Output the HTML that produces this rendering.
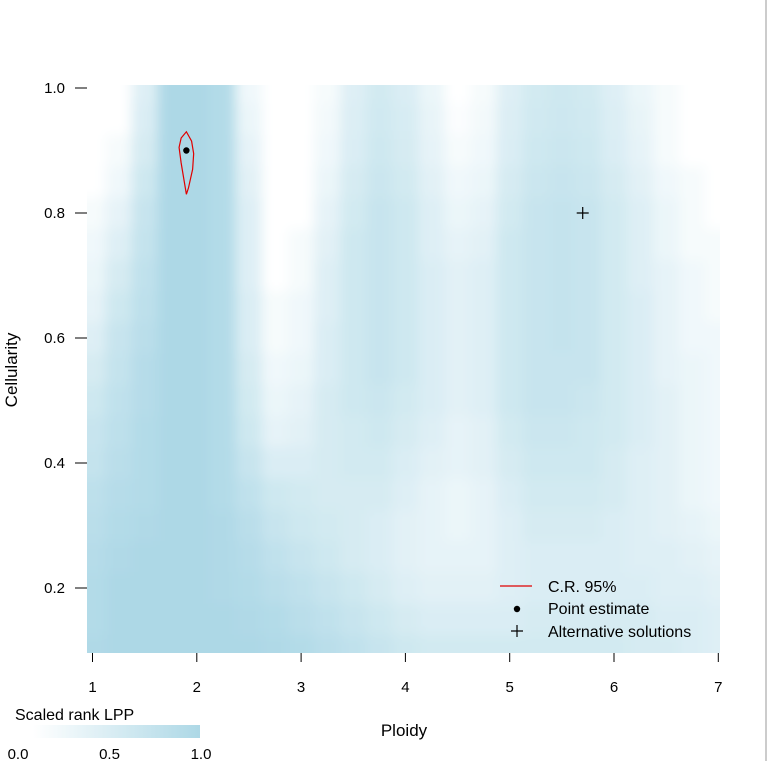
<!DOCTYPE html>
<html><head><meta charset="utf-8"><style>
html,body{margin:0;padding:0;background:#fff;}
svg{display:block;font-family:"Liberation Sans",Arial,sans-serif;}
</style></head><body>
<svg id="c" width="769" height="761" viewBox="0 0 769 761">
<defs>
<clipPath id="pc"><rect x="87" y="85" width="633" height="568"/></clipPath>
<filter id="bl" filterUnits="userSpaceOnUse" x="0" y="0" width="769" height="761"><feGaussianBlur stdDeviation="6"/></filter>
<linearGradient id="cg" x1="0" x2="1" y1="0" y2="0"><stop offset="0" stop-color="#fff"/><stop offset="1" stop-color="rgb(173,216,230)"/></linearGradient>
</defs>
<g clip-path="url(#pc)"><g id="heat" filter="url(#bl)"></g></g>
<g id="axes"></g>
<line x1="766" y1="0" x2="766" y2="761" stroke="#bbb" stroke-width="1.5"/>
</svg>
<script>
const ploidyVals=[1,1.25,1.5,1.75,2,2.25,2.5,2.75,3,3.25,3.5,3.75,4,4.25,4.5,4.75,5,5.25,5.5,5.75,6,6.25,6.5,6.75,7];
const cellVals=[1.0,0.95,0.9,0.85,0.8,0.75,0.7,0.65,0.6,0.55,0.5,0.45,0.4,0.35,0.3,0.25,0.2,0.15,0.1];
const lpp=[
[0,0,.3,1,1,.9,.1,0,0,.05,.3,.45,.35,.15,0,.05,.3,.45,.5,.45,.3,.15,.05,0,0],
[0,0,.35,1,1,.9,.15,0,0,.08,.32,.48,.38,.18,.02,.08,.32,.48,.52,.48,.32,.18,.05,0,0],
[0,.05,.4,1,1,.9,.2,0,0,.1,.35,.5,.4,.2,.05,.1,.35,.5,.55,.5,.35,.2,.05,0,0],
[0,.1,.5,1,1,.9,.25,0,0,.15,.4,.55,.45,.25,.1,.15,.4,.55,.6,.55,.4,.25,.1,.05,0],
[.05,.2,.6,1,1,.9,.3,0,0,.2,.45,.6,.5,.3,.15,.2,.45,.6,.65,.6,.45,.3,.15,.05,0],
[.1,.3,.65,1,1,.9,.3,0,.05,.25,.5,.6,.5,.3,.2,.25,.5,.6,.65,.6,.45,.3,.15,.05,.05],
[.15,.4,.7,1,1,.9,.3,0,.05,.3,.5,.6,.5,.35,.25,.3,.5,.6,.65,.6,.45,.3,.2,.1,.05],
[.2,.5,.75,1,1,.9,.35,.05,.1,.3,.5,.6,.5,.35,.25,.3,.5,.6,.65,.6,.45,.35,.2,.1,.05],
[.3,.6,.8,1,1,.9,.35,.05,.1,.35,.5,.6,.5,.35,.25,.3,.5,.6,.65,.6,.45,.35,.2,.1,.1],
[.4,.65,.85,1,1,.9,.4,.1,.15,.35,.5,.6,.5,.35,.25,.3,.5,.6,.6,.6,.45,.35,.2,.15,.1],
[.5,.7,.85,1,1,.9,.45,.15,.2,.4,.5,.55,.45,.35,.25,.3,.5,.6,.6,.55,.45,.35,.25,.15,.1],
[.6,.75,.9,1,1,.9,.5,.2,.25,.4,.45,.5,.4,.3,.2,.25,.45,.55,.55,.5,.45,.35,.25,.15,.1],
[.65,.8,.9,1,1,.9,.6,.35,.35,.4,.45,.45,.35,.25,.2,.25,.4,.5,.5,.5,.4,.3,.25,.15,.1],
[.75,.85,.9,1,1,.9,.7,.5,.45,.4,.4,.4,.3,.2,.15,.2,.35,.45,.45,.45,.4,.3,.25,.15,.1],
[.8,.9,.95,1,1,.95,.8,.6,.5,.45,.4,.35,.25,.2,.15,.2,.3,.4,.4,.4,.35,.3,.25,.2,.15],
[.85,.95,1,1,1,.95,.85,.7,.6,.5,.4,.35,.25,.2,.2,.2,.3,.35,.35,.35,.35,.3,.3,.25,.2],
[.9,1,1,1,1,.95,.9,.8,.7,.6,.5,.4,.3,.25,.25,.25,.3,.35,.35,.35,.35,.35,.3,.3,.25],
[.9,1,1,1,1,1,.95,.9,.8,.7,.6,.5,.4,.35,.35,.35,.35,.4,.4,.4,.4,.4,.35,.35,.3],
[.95,1,1,1,1,1,1,.95,.9,.8,.7,.6,.5,.45,.45,.45,.45,.45,.45,.45,.45,.4,.4,.35,.3]];
const xTicks=[1,2,3,4,5,6,7];
const yTicks=[0.2,0.4,0.6,0.8,1.0];
const yTickLabels=["0.2","0.4","0.6","0.8","1.0"];
const pointEst=[1.9,0.9];
const altSol=[5.7,0.8];
const crPloidy=[1.9,1.95,1.97,1.96,1.92,1.9,1.88,1.85,1.83,1.85];
const crCell=[0.93,0.915,0.895,0.87,0.84,0.83,0.85,0.88,0.905,0.92];
const cbTicks=[0,0.5,1];
const cbLabels=["0.0","0.5","1.0"];

const NS="http://www.w3.org/2000/svg";
const sx=p=>92.5+(p-1)*104.3;
const sy=c=>88+(1-c)*625;
function mk(tag,attrs,parent,text){const e=document.createElementNS(NS,tag);for(const k in attrs)e.setAttribute(k,attrs[k]);if(text!==undefined)e.textContent=text;parent.appendChild(e);return e;}
function col(v){v=Math.pow(Math.max(0,v),0.75);const r=Math.round(255+(173-255)*v),g=Math.round(255+(216-255)*v),b=Math.round(255+(230-255)*v);return `rgb(${r},${g},${b})`;}
const heat=document.getElementById('heat');
const axes=document.getElementById('axes');
const dp=0.25,dc=0.05;
for(let i=0;i<cellVals.length;i++){for(let j=0;j<ploidyVals.length;j++){
 let x0=sx(ploidyVals[j]-dp/2),x1=sx(ploidyVals[j]+dp/2);
 let y0=sy(cellVals[i]+dc/2),y1=sy(cellVals[i]-dc/2);
 if(j===0)x0-=20; if(j===ploidyVals.length-1)x1+=20;
 if(i===0)y0-=20; if(i===cellVals.length-1)y1+=20;
 const r=mk('rect',{x:x0,y:y0,width:x1-x0+0.5,height:y1-y0+0.5,fill:col(lpp[i][j])},heat);
 
 
}}
xTicks.forEach(t=>{
 const l=mk('line',{x1:sx(t),x2:sx(t),y1:653,y2:662,stroke:'#000','stroke-width':1},axes);
 
 const tx=mk('text',{x:sx(t),y:692,'font-size':15,'text-anchor':'middle'},axes,String(t));
 
});
yTicks.forEach((t,i)=>{
 const l=mk('line',{x1:75,x2:87,y1:sy(t),y2:sy(t),stroke:'#000','stroke-width':1},axes);
 
 const tx=mk('text',{x:65,y:sy(t)+5,'font-size':15,'text-anchor':'end'},axes,yTickLabels[i]);
 
});
let t=mk('text',{x:404,y:736,'font-size':17,'text-anchor':'middle'},axes,'Ploidy');

t=mk('text',{x:0,y:0,'font-size':17,'text-anchor':'middle',transform:'translate(17,370) rotate(-90)'},axes,'Cellularity');

const pts=crPloidy.map((p,i)=>sx(p)+','+sy(crCell[i])).join(' ');
let e=mk('polygon',{points:pts,fill:'none',stroke:'#e00000','stroke-width':1.2},axes);

e=mk('circle',{cx:sx(pointEst[0]),cy:sy(pointEst[1]),r:3.2,fill:'#000'},axes);

const ax=sx(altSol[0]),ay=sy(altSol[1]);
e=mk('path',{d:`M${ax-6},${ay}H${ax+6}M${ax},${ay-6}V${ay+6}`,stroke:'#000','stroke-width':1.2},axes);

const lg=mk('g',{},axes);

mk('line',{x1:500,x2:532,y1:586,y2:586,stroke:'#e00000','stroke-width':1.2},lg);
mk('circle',{cx:517,cy:609,r:3.2,fill:'#000'},lg);
mk('path',{d:'M511,631H523M517,625V637',stroke:'#000','stroke-width':1.2},lg);
[['C.R. 95%',592],['Point estimate',614],['Alternative solutions',637]].forEach(([s,y])=>{
 const tt=mk('text',{x:548,y:y,'font-size':16},lg,s);
 
});
t=mk('text',{x:15,y:720,'font-size':16},axes,'Scaled rank LPP');

e=mk('rect',{x:33,y:725,width:167,height:13,fill:'url(#cg)'},axes);

cbTicks.forEach((v,i)=>{
 const tt=mk('text',{x:18+v*183,y:759,'font-size':15,'text-anchor':'middle'},axes,cbLabels[i]);
 
});
</script>
</body></html>
